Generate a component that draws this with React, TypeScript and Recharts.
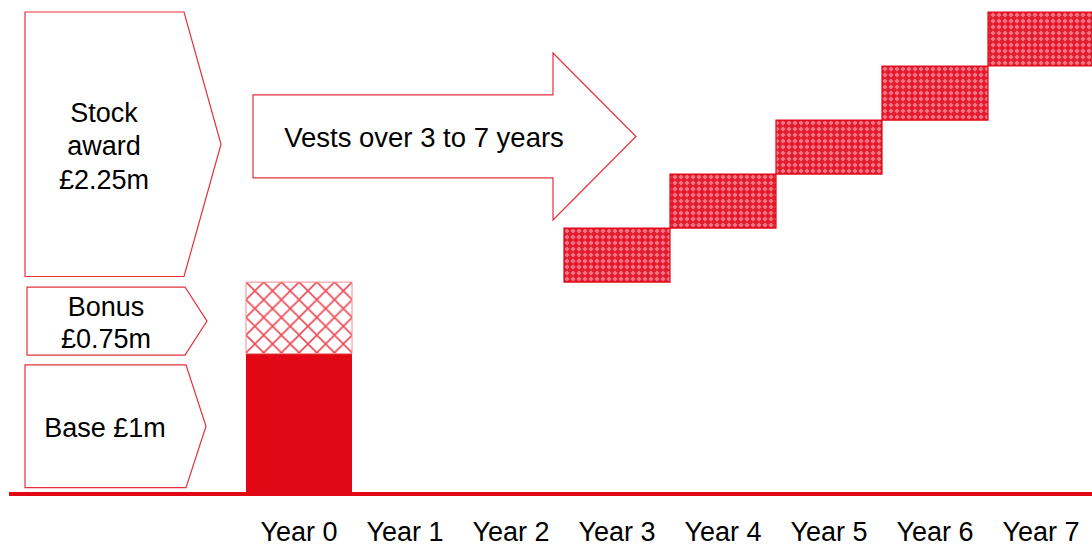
import React from 'react';
import { BarChart, Bar, XAxis, YAxis, ReferenceArea } from 'recharts';

const years = ['Year 0', 'Year 1', 'Year 2', 'Year 3', 'Year 4', 'Year 5', 'Year 6', 'Year 7'];
const baseValues = [1, 0, 0, 0, 0, 0, 0, 0];
const bonusValues = [0.51, 0, 0, 0, 0, 0, 0, 0];
const stockValues = [0, 0, 0, 0.385, 0.385, 0.385, 0.385, 0.385];

const stockLabel = ['Stock', 'award', '£2.25m'];
const bonusLabel = ['Bonus', '£0.75m'];
const baseLabel = ['Base £1m'];
const vestLabel = 'Vests over 3 to 7 years';

const RED = '#e20714';
const OUTLINE = '#e5303c';
const FONT = '"Liberation Sans", Arial, sans-serif';
const FS = 27;

const baseTotal = baseValues.reduce((a, b) => a + b, 0);
const bonusTotal = bonusValues.reduce((a, b) => a + b, 0);
const stockTotal = stockValues.reduce((a, b) => a + b, 0);
const grandTotal = baseTotal + bonusTotal + stockTotal;

const data = (() => {
  let cum = 0;
  return years.map((year, i) => {
    const offset = stockValues[i] > 0 ? cum : 0;
    cum += baseValues[i] + bonusValues[i] + stockValues[i];
    return {
      year,
      offset: offset || null,
      base: baseValues[i] || null,
      bonus: bonusValues[i] || null,
      stock: stockValues[i] || null,
    };
  });
})();

type BoxCfg = { left: number; body: number; tip: number; lines: string[]; cx: number; lineGap: number };

// offsets are relative to the start of the "Year 0" band
const makeBox = (cfg: BoxCfg) => (props: any) => {
  const { x, y, height } = props;
  const x0 = x + cfg.left;
  const x1 = x + cfg.body;
  const x2 = x + cfg.tip;
  const y0 = y;
  const y1 = y + height;
  const ym = (y0 + y1) / 2;
  const n = cfg.lines.length;
  return (
    <g>
      <polygon
        points={`${x0},${y0} ${x1},${y0} ${x2},${ym} ${x1},${y1} ${x0},${y1}`}
        fill="#fff"
        stroke={OUTLINE}
        strokeWidth={1.2}
      />
      {cfg.lines.map((t, i) => (
        <text
          key={i}
          x={x + cfg.cx}
          y={ym + 2 + (i - (n - 1) / 2) * cfg.lineGap}
          textAnchor="middle"
          dominantBaseline="central"
          fontFamily={FONT}
          fontSize={FS}
          fill="#000"
        >
          {t}
        </text>
      ))}
    </g>
  );
};

const StockBox = makeBox({ left: -221, body: -62, tip: -25, lines: stockLabel, cx: -142, lineGap: 33.5 });
const BonusBox = makeBox({ left: -219, body: -61, tip: -39, lines: bonusLabel, cx: -140, lineGap: 32 });
const BaseBox = makeBox({ left: -221, body: -60, tip: -40, lines: baseLabel, cx: -141, lineGap: 32 });

const VestArrow = (props: any) => {
  const { x, y, height } = props;
  const left = x + 7;
  const neck = x + 307;
  const tip = x + 390;
  const top = y;
  const bottom = y + height;
  const mid = (top + bottom) / 2;
  const bTop = top + 42;
  const bBot = bottom - 42;
  return (
    <g>
      <polygon
        points={`${left},${bTop} ${neck},${bTop} ${neck},${top} ${tip},${mid} ${neck},${bottom} ${neck},${bBot} ${left},${bBot}`}
        fill="#fff"
        stroke={OUTLINE}
        strokeWidth={1.2}
      />
      <text
        x={x + 178}
        y={mid + 1.5}
        textAnchor="middle"
        dominantBaseline="central"
        fontFamily={FONT}
        fontSize={27.5}
        fill="#000"
      >
        {vestLabel}
      </text>
    </g>
  );
};

export default function App() {
  return (
    <div style={{ position: 'absolute', left: 0, top: 0, width: 1092, height: 544, overflow: 'hidden', background: '#fff' }}>
      <svg width={0} height={0} style={{ position: 'absolute' }}>
        <defs>
          <pattern id="crossHatch" patternUnits="userSpaceOnUse" width={17.7} height={17.7} x={246} y={282}>
            <rect width={17.7} height={17.7} fill="#fff" />
            <path d="M0,0 L17.7,17.7 M17.7,0 L0,17.7" stroke="#ec4a55" strokeWidth={1.6} />
          </pattern>
          <pattern id="stockPat" patternUnits="userSpaceOnUse" width={6} height={6}>
            <rect width={6} height={6} fill="#e41a2e" />
            <path d="M3,0.5 L5.5,3 L3,5.5 L0.5,3 Z" fill="#f6929d" />
            <rect x={2.5} y={2.5} width={1} height={1} fill="#fde3e6" />
            <rect x={2.6} y={0} width={0.8} height={6} fill="#e41a2e" opacity={0.5} />
            <rect x={0} y={2.6} width={6} height={0.8} fill="#e41a2e" opacity={0.5} />
          </pattern>
        </defs>
      </svg>
      <BarChart
        width={1094}
        height={544}
        data={data}
        margin={{ top: 12, right: 0, left: 9, bottom: 0 }}
        barCategoryGap={0}
        barGap={0}
      >
        <XAxis
          dataKey="year"
          height={50}
          interval={0}
          padding={{ left: 237, right: 0 }}
          axisLine={{ stroke: RED, strokeWidth: 4 }}
          tickLine={false}
          tickMargin={22}
          tick={{ fill: '#000', fontSize: FS, fontFamily: FONT }}
        />
        <YAxis hide type="number" domain={[0, grandTotal]} />
        <Bar dataKey="offset" stackId="a" fill="transparent" isAnimationActive={false} />
        <Bar dataKey="base" stackId="a" fill={RED} isAnimationActive={false} />
        <Bar dataKey="bonus" stackId="a" fill="url(#crossHatch)" stroke="#f08a92" strokeWidth={1} isAnimationActive={false} />
        <Bar dataKey="stock" stackId="a" fill="url(#stockPat)" stroke={RED} strokeWidth={1.2} isAnimationActive={false} />
        <ReferenceArea
          y1={baseTotal + bonusTotal + 0.04}
          y2={grandTotal}
          shape={StockBox}
          ifOverflow="visible"
        />
        <ReferenceArea
          y1={baseTotal - 0.01}
          y2={baseTotal + bonusTotal - 0.035}
          shape={BonusBox}
          ifOverflow="visible"
        />
        <ReferenceArea
          y1={0.045}
          y2={baseTotal - 0.08}
          shape={BaseBox}
          ifOverflow="visible"
        />
        <ReferenceArea
          y1={1.953}
          y2={3.143}
          shape={VestArrow}
          ifOverflow="visible"
        />
      </BarChart>
    </div>
  );
}
